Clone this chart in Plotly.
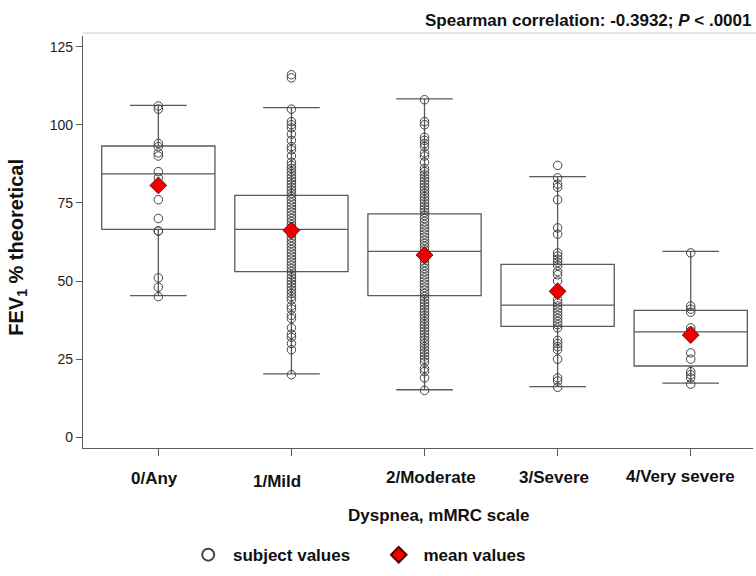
import plotly.graph_objects as go

categories = ["0/Any", "1/Mild", "2/Moderate", "3/Severe", "4/Very severe"]

vals_any = [106, 105, 94, 93, 91, 90, 85, 83, 76, 70, 66, 66, 51, 48, 45]
vals_mild = [116, 115, 105, 101, 100, 99, 97, 95, 93, 92, 90, 88, 87, 86, 85, 84, 83, 82,
             81, 80, 79, 78, 77, 76, 75, 74, 73, 72, 71, 70, 69, 68, 67, 66, 65, 64, 63,
             62, 61, 60, 59, 58, 57, 56, 55, 54, 53, 52, 51, 50, 49, 48, 47, 46, 45, 44,
             42, 41, 39, 38, 35, 33, 32, 30, 28, 20]
vals_moderate = [108, 101, 100, 96, 95, 94, 93, 91, 90, 88, 86, 85, 84, 83, 82, 81, 80, 79,
                 78, 77, 76, 75, 74, 73, 72, 71, 70, 69, 68, 67, 66, 65, 64, 63, 62, 61,
                 60, 59, 58, 57, 56, 55, 54, 53, 52, 51, 50, 49, 48, 47, 46, 45, 44, 43,
                 42, 41, 40, 39, 38, 37, 36, 35, 34, 33, 32, 31, 30, 29, 28, 27, 26, 25,
                 24, 22, 21, 19, 15]
vals_severe = [87, 83, 81, 80, 76, 67, 65, 59, 58, 57, 56, 55, 53, 52, 50, 47, 46, 44, 43,
               42, 41, 40, 39, 38, 37, 36, 35, 31, 30, 29, 28, 25, 19, 18, 16]
vals_very = [59, 42, 41, 40, 35, 34, 33, 27, 25, 21, 20, 19, 17]

q1 = [66.5, 53.0, 45.3, 35.5, 22.8]
median = [84.3, 66.5, 59.5, 42.3, 33.7]
q3 = [93.2, 77.4, 71.5, 55.3, 40.6]
lowerfence = [45.3, 20.3, 15.2, 16.2, 17.3]
upperfence = [106.2, 105.5, 108.3, 83.4, 59.5]
means = [80.6, 66.2, 58.3, 46.7, 32.7]

groups = [vals_any, vals_mild, vals_moderate, vals_severe, vals_very]
# label placement tweaks (style only)
label_dx = [-0.03, -0.105, 0.05, -0.03, -0.075]
label_dy = [-30, -33, -29, -29, -28]

FONT = "Liberation Sans, Arial, Helvetica, sans-serif"
pos = list(range(len(categories)))
LINE = "#5a5a5a"
NB = "&nbsp;"

fig = go.Figure()
fig.add_trace(go.Box(
    x=pos, q1=q1, median=median, q3=q3, lowerfence=lowerfence, upperfence=upperfence,
    width=0.851, whiskerwidth=0.5, fillcolor="rgba(255,255,255,0)",
    line=dict(color=LINE, width=1.3), showlegend=False, hoverinfo="skip",
    boxpoints=False,
))

px, py = [], []
for i, g in enumerate(groups):
    px += [pos[i]] * len(g)
    py += g
fig.add_trace(go.Scatter(
    x=px, y=py, mode="markers", name=NB + "<b>subject values" + NB * 5 + "</b>",
    marker=dict(symbol="circle-open", size=8.5, color="#444444", line=dict(width=1)),
))
fig.add_trace(go.Scatter(
    x=pos, y=means, mode="markers", name=NB + "<b>mean values</b>",
    marker=dict(symbol="diamond", size=13, color="#ee0000",
                line=dict(color="#550000", width=0.8)),
))

annotations = []
for i, c in enumerate(categories):
    annotations.append(dict(
        x=pos[i] + label_dx[i], y=0, xref="x", yref="paper", yshift=label_dy[i],
        text="<b>%s</b>" % c, showarrow=False, yanchor="middle",
        font=dict(family=FONT, size=17, color="#111111"),
    ))
annotations.append(dict(
    x=0.53, y=0, xref="paper", yref="paper", yshift=-67, yanchor="middle",
    text="<b>Dyspnea, mMRC scale</b>", showarrow=False,
    font=dict(family=FONT, size=17, color="#111111"),
))
annotations.append(dict(
    x=-0.097, y=0.486, xref="paper", yref="paper", textangle=-90,
    xanchor="center", yanchor="middle",
    text="<b>FEV<sub>1</sub> % theoretical</b>", showarrow=False,
    font=dict(family=FONT, size=20, color="#111111"),
))
annotations.append(dict(
    x=1.0, y=1.0, xref="paper", yref="paper", yshift=16, xanchor="right", yanchor="middle",
    text="<b>Spearman correlation: -0.3932; <i>P</i> &lt; .0001</b>", showarrow=False,
    font=dict(family=FONT, size=17, color="#111111"),
))

fig.update_layout(
    width=756, height=576,
    margin=dict(l=83, r=3, t=36, b=118),
    paper_bgcolor="white", plot_bgcolor="white",
    font=dict(family=FONT, size=14, color="#111111"),
    annotations=annotations,
    legend=dict(orientation="h", x=0.413, xanchor="center", y=-0.26, yanchor="middle",
                font=dict(family=FONT, size=17, color="#111111"),
                itemsizing="constant"),
    shapes=[dict(type="line", xref="paper", yref="paper", x0=0, x1=1.01, y0=1.007, y1=1.007,
                 line=dict(color="#dddddd", width=1.5))],
)
fig.update_xaxes(
    range=[-0.566, 4.468], tickvals=pos, showticklabels=False,
    ticks="outside", ticklen=7, tickcolor=LINE,
    showline=True, linecolor=LINE, linewidth=1.3, showgrid=False, zeroline=False,
)
fig.update_yaxes(
    range=[-3.44, 128.4], tickvals=[0, 25, 50, 75, 100, 125],
    ticks="outside", ticklen=6, tickcolor=LINE,
    showline=True, linecolor=LINE, linewidth=1.3, showgrid=False, zeroline=False,
    tickfont=dict(size=14, color="#222222"),
)

fig.write_html("out.html", config={"displayModeBar": False},
               post_script="document.body.style.margin='0px';")
